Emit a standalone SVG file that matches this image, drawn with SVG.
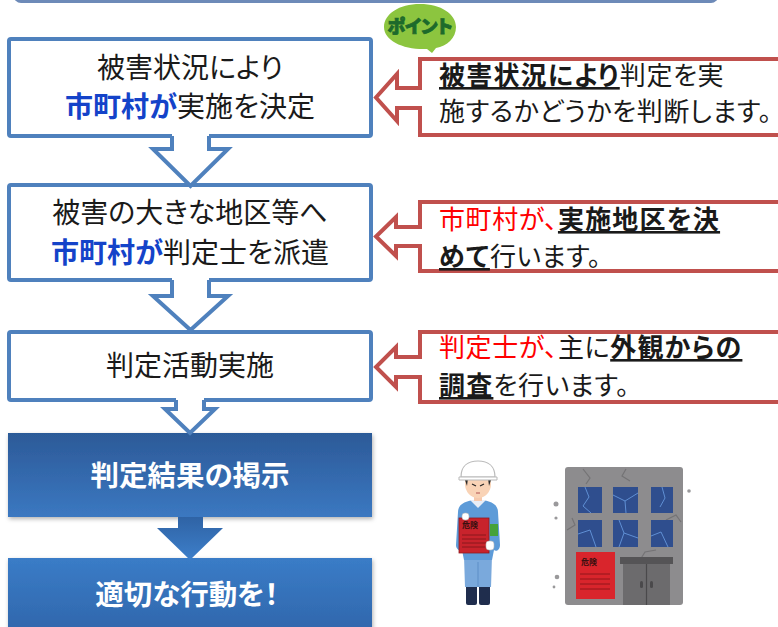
<svg xmlns="http://www.w3.org/2000/svg" width="778" height="627" viewBox="0 0 778 627">
  <defs>
    <style>
      .jp { font-family: "Noto Sans CJK JP", "Noto Sans", sans-serif; font-feature-settings: "palt"; }
      .step { fill: #ffffff; stroke: #4f81bd; stroke-width: 4; }
      .step-text { font-size: 28px; fill: #1a1a1a; text-anchor: middle; }
      .city { fill: #1443c9; font-weight: 700; }
      .flow-fill { fill: #ffffff; stroke: none; }
      .flow-line { fill: none; stroke: #4f81bd; stroke-width: 4; stroke-linejoin: miter; }
      .note { fill: #ffffff; stroke: #c0504d; stroke-width: 4; stroke-linejoin: miter; }
      .note-text { font-size: 26px; letter-spacing: 0.6px; fill: #1a1a1a; }
      .em { font-weight: 700; text-decoration: underline; letter-spacing: 1.2px; }
      .red { fill: #ff0000; }
      .result-text { font-size: 28.5px; font-weight: 700; fill: #ffffff; text-anchor: middle; }
      .sign-text { font-size: 8px; font-weight: 700; fill: #3a1010; }
    </style>
    <linearGradient id="gResult" x1="0" y1="0" x2="0" y2="1">
      <stop offset="0" stop-color="#2c5a98"/>
      <stop offset="1" stop-color="#3b78c1"/>
    </linearGradient>
    <linearGradient id="gAction" x1="0" y1="0" x2="0" y2="1">
      <stop offset="0" stop-color="#3a7cc7"/>
      <stop offset="1" stop-color="#2e62a6"/>
    </linearGradient>
    <linearGradient id="gArrow" x1="0" y1="0" x2="0" y2="1">
      <stop offset="0" stop-color="#2f63a5"/>
      <stop offset="1" stop-color="#3d7fca"/>
    </linearGradient>
    <filter id="shadow" x="-5%" y="-10%" width="110%" height="130%">
      <feDropShadow dx="1" dy="2" stdDeviation="2" flood-color="#000000" flood-opacity="0.3"/>
    </filter>
  </defs>

  <rect width="778" height="627" fill="#ffffff"/>

  <!-- frame of the panel above, only its lower edge is in view -->
  <rect x="15" y="-30" width="702" height="31.5" rx="6" fill="#ffffff" stroke="#6d8ab8" stroke-width="3"/>

  <!-- flow steps -->
  <g id="step1">
    <rect class="step" x="9" y="39" width="362" height="97" rx="2"/>
    <text class="jp step-text" x="190" y="78">被害状況により</text>
    <text class="jp step-text" x="190" y="117"><tspan class="city">市町村が</tspan>実施を決定</text>
  </g>
  <g id="step2">
    <rect class="step" x="9" y="185" width="362" height="95" rx="2"/>
    <text class="jp step-text" x="190" y="223">被害の大きな地区等へ</text>
    <text class="jp step-text" x="190" y="263"><tspan class="city">市町村が</tspan>判定士を派遣</text>
  </g>
  <g id="step3">
    <rect class="step" x="9" y="332" width="362" height="68" rx="2"/>
    <text class="jp step-text" x="190" y="376">判定活動実施</text>
  </g>
  <g id="step4">
    <rect x="8" y="433" width="364" height="84" fill="url(#gResult)" filter="url(#shadow)"/>
    <text class="jp result-text" x="190" y="486">判定結果の掲示</text>
  </g>
  <g id="step5">
    <rect x="8" y="558" width="364" height="90" fill="url(#gAction)" filter="url(#shadow)"/>
    <text class="jp result-text" x="187" y="605">適切な行動を！</text>
  </g>

  <!-- connectors between steps -->
  <g id="connectors">
    <polygon class="flow-fill" points="172,132 209,132 209,149 228,149 190.5,186 153,149 172,149"/>
    <polyline class="flow-line" points="172,136 172,149 153,149 190.5,186 228,149 209,149 209,136"/>
    <polygon class="flow-fill" points="172,276 209,276 209,296 228,296 190.5,330 153,296 172,296"/>
    <polyline class="flow-line" points="172,280 172,296 153,296 190.5,330 228,296 209,296 209,280"/>
    <polygon class="flow-fill" points="176,396 204,396 204,409 215,409 190,433 165,409 176,409"/>
    <polyline class="flow-line" points="176,400 176,409 165,409 190,433 215,409 204,409 204,400"/>
    <polygon points="178,517 203,517 203,528 223,528 190,560 157,528 178,528" fill="url(#gArrow)"/>
  </g>

  <!-- notes pointing at the steps -->
  <g id="note1">
    <path class="note" d="M420 88 V59 H792 V135 H420 V108 H397 V121 L376 97.5 L397 74 V88 Z"/>
    <text class="jp note-text" x="439" y="85"><tspan class="em">被害状況により</tspan>判定を実</text>
    <text class="jp note-text" x="439" y="121">施するかどうかを判断します。</text>
  </g>
  <g id="note2">
    <path class="note" d="M420 227 V202 H792 V271 H420 V246 H396 V256 L376 236.5 L396 217 V227 Z"/>
    <text class="jp note-text" x="439" y="229"><tspan class="red">市町村が、</tspan><tspan class="em">実施地区を決</tspan></text>
    <text class="jp note-text" x="439" y="266"><tspan class="em">めて</tspan>行います。</text>
  </g>
  <g id="note3">
    <path class="note" d="M420 357 V332 H792 V402 H420 V377 H396 V387 L376 367 L396 347 V357 Z"/>
    <text class="jp note-text" x="439" y="357"><tspan class="red">判定士が、</tspan>主に<tspan class="em">外観からの</tspan></text>
    <text class="jp note-text" x="439" y="395"><tspan class="em">調査</tspan>を行います。</text>
  </g>

  <!-- "point" speech bubble -->
  <g id="point">
    <path d="M420 4 C441 4 456 14 456 27 C456 38 447 46 436 48 L432 53 L427 49 C404 50 384 41 384 27 C384 14 399 4 420 4 Z" fill="#8cc53f"/>
    <text class="jp" x="420" y="33" text-anchor="middle" font-size="18" font-weight="900" fill="#1d6a2b" stroke="#1d6a2b" stroke-width="0.8">ポイント</text>
  </g>

  <!-- inspector holding a red notice -->
  <g id="inspector">
    <rect x="466" y="583" width="11" height="22" rx="2" fill="#1f2d4d"/>
    <rect x="479" y="583" width="11" height="22" rx="2" fill="#1f2d4d"/>
    <path d="M464 556 H492 L491 587 H465 Z" fill="#7aa9dc"/>
    <line x1="478" y1="562" x2="478" y2="587" stroke="#5d8ec7" stroke-width="1"/>
    <path d="M458 512 C458 504 466 500 478 500 C490 500 498 504 498 512 L500 545 C500 550 496 552 494 550 L492 560 H464 L462 550 C459 551 456 549 456 545 Z" fill="#5d9bd8"/>
    <path d="M470 500 L478 508 L486 500 Z" fill="#e8eef6"/>
    <rect x="490" y="524" width="8" height="12" fill="#45a23a"/>
    <rect x="474" y="495" width="8" height="6" fill="#f6c9ad"/>
    <ellipse cx="478" cy="484" rx="13" ry="14" fill="#f9d3b6"/>
    <path d="M465 480 C465 470 491 470 491 480 L489 486 L488 478 H468 L467 486 Z" fill="#2a2a2a"/>
    <path d="M461 477 C461 466 468 461 478 461 C488 461 495 466 495 477 Z" fill="#ffffff" stroke="#b9b9b9" stroke-width="1.2"/>
    <path d="M459 477 H497 V480 H459 Z" fill="#ffffff" stroke="#b9b9b9" stroke-width="1"/>
    <line x1="472" y1="484" x2="476" y2="486" stroke="#222" stroke-width="1.2"/>
    <line x1="484" y1="484" x2="480" y2="486" stroke="#222" stroke-width="1.2"/>
    <line x1="476" y1="493" x2="480" y2="493" stroke="#b05050" stroke-width="1"/>
    <rect x="459" y="518" width="30" height="35" fill="#c8232c" stroke="#8e1a20" stroke-width="0.8"/>
    <text class="jp sign-text" x="462" y="528">危険</text>
    <g stroke="#7a151a" stroke-width="0.8">
      <line x1="462" y1="535" x2="486" y2="535"/>
      <line x1="462" y1="539" x2="486" y2="539"/>
      <line x1="462" y1="543" x2="486" y2="543"/>
      <line x1="462" y1="547" x2="486" y2="547"/>
    </g>
    <rect x="462" y="513" width="7" height="7" rx="3" fill="#ffffff" stroke="#bbbbbb" stroke-width="0.6"/>
    <rect x="486" y="541" width="8" height="9" rx="3" fill="#ffffff" stroke="#bbbbbb" stroke-width="0.6"/>
  </g>

  <!-- damaged building with a red notice -->
  <g id="building">
    <rect x="565" y="467" width="118" height="138" rx="3" fill="#8d8c8e"/>
    <g fill="none" stroke="#747375" stroke-width="1.2">
      <path d="M583 469 L590 478 L586 484"/>
      <path d="M626 469 L622 476 L630 481"/>
      <path d="M567 530 L575 525 L572 518"/>
      <path d="M640 560 L645 552 L656 550"/>
      <path d="M666 520 L676 515 L681 522"/>
    </g>
    <g fill="#2f4e8e">
      <rect x="578" y="487" width="24" height="26"/>
      <rect x="613" y="487" width="25" height="26"/>
      <rect x="651" y="487" width="22" height="26"/>
      <rect x="578" y="520" width="24" height="27"/>
      <rect x="613" y="520" width="25" height="27"/>
      <rect x="651" y="520" width="22" height="27"/>
    </g>
    <g fill="none" stroke="#5f8fd4" stroke-width="1">
      <path d="M585 487 L589 497 L583 506 L591 513"/>
      <path d="M613 495 L625 501 L638 493 M625 501 L626 513"/>
      <path d="M662 487 L665 498 L660 507"/>
      <path d="M578 534 L590 530 L596 547"/>
      <path d="M619 520 L624 533 L619 547 M624 533 L638 538"/>
      <path d="M651 536 L661 532 L668 547"/>
    </g>
    <rect x="620" y="557" width="53" height="7" fill="#555456"/>
    <rect x="623" y="564" width="47" height="41" fill="#6c6b6d"/>
    <line x1="646.5" y1="564" x2="646.5" y2="605" stroke="#4a494b" stroke-width="1.2"/>
    <rect x="640" y="581" width="3" height="7" rx="1.5" fill="#4a494b"/>
    <rect x="650" y="581" width="3" height="7" rx="1.5" fill="#4a494b"/>
    <rect x="576" y="552" width="39" height="47" fill="#d9252c"/>
    <text class="jp sign-text" x="581" y="565" font-size="10">危険</text>
    <g stroke="#8a1418" stroke-width="0.9">
      <line x1="580" y1="574" x2="610" y2="574"/>
      <line x1="580" y1="579" x2="610" y2="579"/>
      <line x1="580" y1="584" x2="610" y2="584"/>
      <line x1="580" y1="589" x2="610" y2="589"/>
    </g>
    <g fill="#9a999b">
      <circle cx="556" cy="504" r="2.5"/>
      <circle cx="556" cy="518" r="1.6"/>
      <circle cx="557" cy="577" r="2.3"/>
      <circle cx="554" cy="587" r="1.4"/>
      <circle cx="689" cy="491" r="1.8"/>
    </g>
  </g>
</svg>
